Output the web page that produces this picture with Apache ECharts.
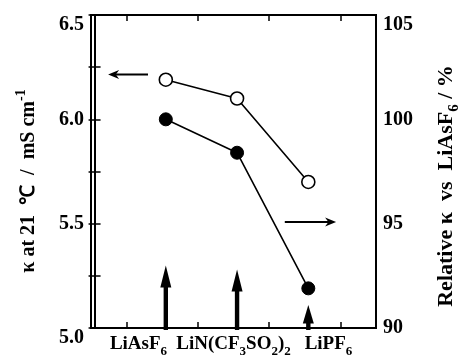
<!DOCTYPE html>
<html><head><meta charset="utf-8">
<script src="https://cdn.jsdelivr.net/npm/echarts@6/dist/echarts.min.js"></script>
<style>html,body{margin:0;padding:0;background:#fff}#c{width:462px;height:358px}</style>
</head><body><div id="c"></div>
<script>
// ---- data ----
const categories = ['LiAsF6', 'LiN(CF3SO2)2', 'LiPF6'];
const kappa = [6.19, 6.10, 5.70];          // open circles, left axis (mS cm-1)
const relative = [100, 98.4, 91.9];        // filled circles, right axis (%)
const markerArrowTops = [5.30, 5.28, 5.11]; // thick upward arrows, left-axis units
const leftTickLabels = ['5.0', '5.5', '6.0', '6.5'];
const rightTickLabels = ['90', '95', '100', '105'];
// pointer arrows [x from, y from, x to, y to] in x-position / left-axis units
const pointerArrows = [[0.75, 6.215, 0.19, 6.215], [2.67, 5.508, 3.39, 5.508]];

const FONT = 'Liberation Serif';
const chart = echarts.init(document.getElementById('c'), null, {renderer: 'canvas'});

function subFmt(s) {
  return s.split(/(\d)/).filter(t => t.length).map(t => /\d/.test(t) ? '{s|' + t + '}' : '{b|' + t + '}').join('');
}

const xMin = -0.05, xMax = 3.95;
const tickLen = 6;

chart.setOption({
  backgroundColor: '#fff',
  animation: false,
  grid: {left: 91, top: 15, width: 285, height: 317, show: true, borderColor: '#000', borderWidth: 2, backgroundColor: 'transparent'},
  xAxis: [
    {type: 'value', min: xMin, max: xMax, position: 'bottom',
     axisLine: {show: true, lineStyle: {color: '#000', width: 2}},
     axisTick: {show: true, inside: true, length: tickLen, lineStyle: {color: '#000', width: 1.5}, customValues: [0.45, 1.45, 2.45, 3.45]},
     axisLabel: {show: false}, splitLine: {show: false}},
    {type: 'category', data: categories, position: 'bottom', boundaryGap: true,
     axisLine: {show: false}, axisTick: {show: false}, splitLine: {show: false},
     axisLabel: {show: true, interval: 0, margin: 7, verticalAlign: 'top', color: '#000',
       formatter: v => subFmt(v),
       rich: {
         b: {fontFamily: FONT, fontWeight: 'bold', fontSize: 19, lineHeight: 20, verticalAlign: 'top', color: '#000'},
         s: {fontFamily: FONT, fontWeight: 'bold', fontSize: 13, lineHeight: 13, padding: [10, 0, 0, 0], verticalAlign: 'top', color: '#000'}
       }}},
    {type: 'value', min: xMin, max: xMax, position: 'top',
     axisLine: {show: true, lineStyle: {color: '#000', width: 2}},
     axisTick: {show: true, inside: true, length: tickLen, lineStyle: {color: '#000', width: 1.5}, customValues: [0.45, 1.45, 2.45, 3.45]},
     axisLabel: {show: false}, splitLine: {show: false}}
  ],
  yAxis: [
    {type: 'value', min: 5, max: 6.5, interval: 0.25, position: 'left',
     axisLine: {show: true, lineStyle: {color: '#000', width: 2}},
     axisTick: {show: true, inside: true, length: tickLen, lineStyle: {color: '#000', width: 1.5}},
     splitLine: {show: false},
     axisLabel: {show: true, margin: 7, color: '#000', fontFamily: FONT, fontWeight: 'bold', fontSize: 20,
       verticalAlignMaxLabel: 'top', verticalAlignMinLabel: 'top',
       formatter: v => { const k = (v - 5) / 0.5; return Math.abs(k - Math.round(k)) < 1e-6 ? leftTickLabels[Math.round(k)] : ''; }}},
    {type: 'value', min: 90, max: 105, interval: 2.5, position: 'right',
     axisLine: {show: true, lineStyle: {color: '#000', width: 2}},
     axisTick: {show: true, inside: true, length: tickLen, lineStyle: {color: '#000', width: 1.5}},
     splitLine: {show: false},
     axisLabel: {show: true, margin: 7, color: '#000', fontFamily: FONT, fontWeight: 'bold', fontSize: 20,
       verticalAlignMaxLabel: 'top',
       formatter: v => { const k = (v - 90) / 5; return Math.abs(k - Math.round(k)) < 1e-6 ? rightTickLabels[Math.round(k)] : ''; }}}
  ],
  graphic: [
    {type: 'text', x: 28, y: 181, rotation: Math.PI / 2,
     style: {text: '{b|κ at 21  ℃  /  mS cm}{p|-1}', align: 'center', verticalAlign: 'middle', fill: '#000',
       rich: {
         b: {fontFamily: FONT, fontWeight: 'bold', fontSize: 20, lineHeight: 21, verticalAlign: 'bottom', fill: '#000'},
         p: {fontFamily: FONT, fontWeight: 'bold', fontSize: 14, lineHeight: 14, padding: [0, 0, 10, 0], verticalAlign: 'bottom', fill: '#000'}
       }}},
    {type: 'text', x: 447, y: 186, rotation: Math.PI / 2,
     style: {text: '{b|Relative κ  vs  LiAsF}{s|6}{b| / %}', align: 'center', verticalAlign: 'middle', fill: '#000',
       rich: {
         b: {fontFamily: FONT, fontWeight: 'bold', fontSize: 22, lineHeight: 23, verticalAlign: 'top', fill: '#000'},
         s: {fontFamily: FONT, fontWeight: 'bold', fontSize: 15, lineHeight: 15, padding: [11, 0, 0, 0], verticalAlign: 'top', fill: '#000'}
       }}}
  ],
  series: [
    {name: 'kappa', type: 'line', xAxisIndex: 0, yAxisIndex: 0, z: 5,
     data: categories.map((c, i) => [i + 1, kappa[i]]),
     symbol: 'circle', symbolSize: 13,
     itemStyle: {color: '#fff', borderColor: '#000', borderWidth: 1.6},
     lineStyle: {color: '#000', width: 1.6}},
    {name: 'relative', type: 'line', xAxisIndex: 0, yAxisIndex: 1, z: 5,
     data: categories.map((c, i) => [i + 1, relative[i]]),
     symbol: 'circle', symbolSize: 13,
     itemStyle: {color: '#000', borderColor: '#000', borderWidth: 1},
     lineStyle: {color: '#000', width: 1.6}},
    {name: 'markers', type: 'custom', xAxisIndex: 0, yAxisIndex: 0, z: 4, silent: true,
     data: categories.map((c, i) => [i + 1, markerArrowTops[i]]),
     renderItem: (params, api) => {
       const base = api.coord([api.value(0), 5.0]);
       const tip = api.coord([api.value(0), api.value(1)]);
       const total = base[1] - tip[1];
       const headL = Math.min(22, total * 0.8), headW = 5.5, sh = 2.2;
       return {type: 'group', children: [
         {type: 'rect', shape: {x: tip[0] - sh, y: tip[1] + headL - 2, width: sh * 2, height: total - headL + 4}, style: {fill: '#000'}},
         {type: 'polygon', shape: {points: [[tip[0], tip[1]], [tip[0] - headW, tip[1] + headL], [tip[0] + headW, tip[1] + headL]]}, style: {fill: '#000'}}
       ]};
     }},
    {name: 'pointers', type: 'custom', xAxisIndex: 0, yAxisIndex: 0, z: 4, silent: true,
     data: pointerArrows,
     renderItem: (params, api) => {
       const a = api.coord([api.value(0), api.value(1)]);
       const b = api.coord([api.value(2), api.value(3)]);
       const dir = Math.sign(b[0] - a[0]);
       const hl = 11, hw = 4.5;
       return {type: 'group', children: [
         {type: 'line', shape: {x1: a[0], y1: a[1], x2: b[0] - dir * hl * 0.6, y2: b[1]}, style: {stroke: '#000', lineWidth: 2}},
         {type: 'polygon', shape: {points: [[b[0], b[1]], [b[0] - dir * hl, b[1] - hw], [b[0] - dir * hl * 0.7, b[1]], [b[0] - dir * hl, b[1] + hw]]}, style: {fill: '#000'}}
       ]};
     }}
  ]
});
</script>
</body></html>
